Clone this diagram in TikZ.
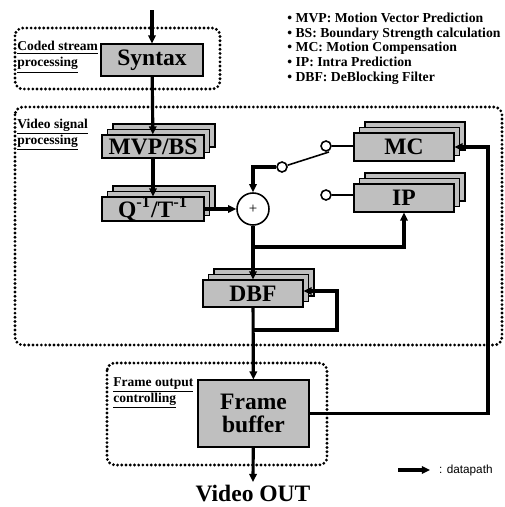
\documentclass[tikz,border=0pt]{standalone}
\usepackage{fontspec}
\setmainfont{Liberation Serif}
\newfontfamily\legendfont{Liberation Sans}
\usetikzlibrary{shapes,arrows.meta,shadows}

\begin{document}
\begin{tikzpicture}
[auto, x=0.02cm, y=-0.02cm,
block/.style ={rectangle, draw=black, fill=black!25, line width=0.6pt,
inner sep=0pt, align=center, font=\fontsize{13.4}{13.2}\selectfont\bfseries},
stack/.style ={block, copy shadow={shadow xshift=0.22cm, shadow yshift=0.22cm},
copy shadow={shadow xshift=0.11cm, shadow yshift=0.11cm}},
group/.style ={draw=black, line width=1.8pt, dash pattern=on 0pt off 2.4pt,
line cap=round, rounded corners=4.5pt},
grouplabel/.style ={anchor=north west, inner sep=0pt, align=left,
font=\fontsize{7.7}{9.1}\selectfont\bfseries},
datapath/.style ={line width=1.8pt, -{Triangle[length=4.6pt,width=4.2pt]}},
link/.style ={line width=0.9pt},
terminal/.style ={circle, draw=black, fill=white, line width=0.9pt,
minimum size=0.2cm, inner sep=0pt}]

\useasboundingbox (0,0) rectangle (504,507);

% dotted groups
\draw[group] (15,28) rectangle (220,89);
\draw[group] (15,107) rectangle (502,345);
\draw[group] (107,363) rectangle (327,465);
\node (codedlabel) [grouplabel] at (17,41) {\underline{Coded stream}\\\underline{processing}};
\node (videolabel) [grouplabel] at (17,118.5) {\underline{Video signal}\\\underline{processing}};
\node (framelabel) [grouplabel] at (113,377) {\underline{Frame output}\\\underline{controlling}};

% notes
\node (notes) [anchor=north west, inner sep=0pt, align=left,
font=\fontsize{7.8}{8.4}\selectfont\bfseries] at (287,12.5)
{• MVP: Motion Vector Prediction\\
• BS: Boundary Strength calculation\\
• MC: Motion Compensation\\
• IP: Intra Prediction\\
• DBF: DeBlocking Filter};

% blocks
\node (syntax) [block, minimum width=2.04cm, minimum height=0.64cm] at (152,60) {Syntax};
\node (mvp) [stack, minimum width=2.04cm, minimum height=0.46cm] at (153,146.5) {MVP/BS};
\node (inv) [stack, minimum width=2.04cm, minimum height=0.48cm] at (153,209)
{Q\textsuperscript{-1}/T\textsuperscript{-1}};
\node (mc) [stack, minimum width=2cm, minimum height=0.56cm] at (404,147) {MC};
\node (ip) [stack, minimum width=2cm, minimum height=0.56cm] at (404,198) {IP};
\node (dbf) [stack, minimum width=2cm, minimum height=0.54cm] at (253,293.5) {DBF};
\node (fb) [block, minimum width=2.22cm, minimum height=1.34cm] at (253.5,413.5) {Frame\\buffer};
\node (sum) [circle, draw=black, fill=white, line width=0.9pt, minimum size=0.64cm,
inner sep=0pt, font=\fontsize{8.5}{8.5}\selectfont] at (253,209) {+};

% switch
\node (sa) [terminal] at (282,167) {};
\node (sb) [terminal] at (326,146) {};
\node (sc) [terminal] at (326,195) {};
\coordinate (lever) at (329,152);
\draw[link] (sa) -- (lever);
\draw[link] (sb) -- (sb -| mc.west);
\draw[link] (sc) -- (sc -| ip.west);

% coordinates
\coordinate (in) at (152,10);
\coordinate (ipfork) at (253,247);
\coordinate (dbffork) at (253,330);
\coordinate (dbfturn) at (337,291);
\coordinate (fbturn) at (488,147);
\coordinate (outend) at (253,482);

\draw[datapath] (in) -- (syntax);
\draw[datapath] (syntax) -- (mvp);
\draw[datapath] (mvp) -- (inv);
\draw[datapath] (inv) -- (sum);
\draw[datapath] (sa.west) -| (sum.north);
\draw[datapath] (sum) -- (dbf);
\draw[datapath] (ipfork) -| (ip.south);
\draw[datapath] (dbffork) -| (dbfturn) -- (dbfturn -| dbf.east);
\draw[datapath] (dbf) -- (fb);
\draw[datapath] (fb.east) -| (fbturn) -- (mc.east);
\draw[datapath] (fb) -- (outend);

\node (vout) [font=\fontsize{13.4}{13.4}\selectfont\bfseries, inner sep=0pt] at (253,494) {Video OUT};

% legend
\coordinate (keyl) at (398,470);
\node (keytext) [anchor=west, inner xsep=5pt, inner ysep=0pt,
font=\legendfont\fontsize{6.7}{6.7}\selectfont] at (430,470) {: datapath};
\draw[datapath] (keyl) -- (keytext.west);
\end{tikzpicture}
\end{document}
